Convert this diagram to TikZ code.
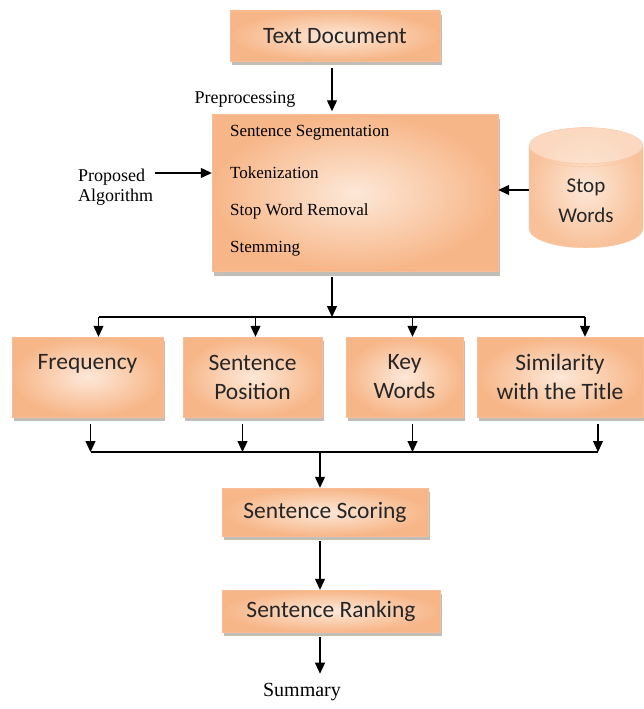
\documentclass[tikz,border=0pt]{standalone}
\usepackage{fontspec}
\setmainfont{Liberation Serif}
\newfontfamily\boxfont{Carlito}
\usetikzlibrary{arrows.meta,shapes.geometric,shadows,positioning}

\definecolor{peach}{RGB}{247,182,136}
\definecolor{peachlight}{RGB}{253,232,216}
\definecolor{shadowgray}{RGB}{180,172,165}

\tikzset{
  stage/.style={rectangle, inner color=peachlight, outer color=peach,
    draw=peach!90, line width=0.4pt,
    drop shadow={shadow xshift=2pt, shadow yshift=-4pt, fill=shadowgray, opacity=0.8},
    font=\boxfont\fontsize{23.5}{29}\selectfont, align=center, text=black!85},
  step item/.style={anchor=west, inner sep=0pt, font=\fontsize{17}{20}\selectfont},
  lbl/.style={font=\fontsize{18}{20}\selectfont, align=left, inner sep=2pt},
  cyl/.style={cylinder, shape border rotate=90, aspect=0.63,
    minimum width=114pt, minimum height=120pt,
    inner color=peachlight, outer color=peach!85,
    draw=peach!80, line width=0.4pt,
    font=\boxfont\fontsize{21}{30}\selectfont, align=center, text=black!85},
  arr/.style={-{Triangle[length=11pt,width=10pt]}, line width=1.2pt},
  bus/.style={line width=1.2pt}
}

\begin{document}
\begin{tikzpicture}[x=1pt,y=-1pt]
\useasboundingbox (0,0) rectangle (644,709);

% preprocessing stage
\node[stage, minimum width=210pt, minimum height=50pt] (doc) at (335,36) {Text Document};
\node[lbl] (pre) at (245,99) {Preprocessing};
\node[stage, minimum width=286pt, minimum height=157pt] (prep) at (355,193) {};
\node[step item] (seg) at (230,133) {Sentence Segmentation};
\node[step item] (tok) at (230,173) {Tokenization};
\node[step item] (swr) at (230,211) {Stop Word Removal};
\node[step item] (stem) at (230,249) {Stemming};
\node[lbl, anchor=west] (alg) at (76,187) {Proposed\\Algorithm};
\node[cyl, anchor=bottom] (stop) at (586,248) {Stop\\Words};
\draw[draw=peach!80, fill=peachlight, fill opacity=0.6, line width=0.4pt]
  ([yshift=-18pt]stop.top) ellipse [x radius=56.8pt, y radius=18pt];

% features
\node[stage, minimum width=151pt, minimum height=80pt] (freq) at (87.5,377) {Frequency\\\phantom{Position}};
\node[stage, minimum width=139pt, minimum height=80pt] (pos) at (252.5,377) {Sentence\\Position};
\node[stage, minimum width=117pt, minimum height=80pt] (key) at (404.5,377) {Key\\Words};
\node[stage, minimum width=166pt, minimum height=80pt] (sim) at (560,377) {Similarity\\with the Title};

% scoring and ranking
\node[stage, minimum width=206pt, minimum height=48pt] (score) at (325,512) {Sentence Scoring};
\node[stage, minimum width=218pt, minimum height=42pt] (rank) at (331,611) {Sentence Ranking};
\node[font=\fontsize{20}{22}\selectfont] (sum) at (302,692) {Summary};

\coordinate (upcol) at (332,0);
\coordinate (downcol) at (320,0);
\coordinate (bustop) at (0,317);
\coordinate (busbot) at (0,452);

% connectors
\draw[arr, shorten <=7pt, shorten >=3pt] (doc.south -| upcol) -- (prep.north -| upcol);
\draw[arr] (tok -| alg.east) -- (tok -| prep.west);
\draw[arr] (stop.west |- 0,190) -- (prep.east |- 0,190);
\draw[arr, shorten <=5pt] (prep.south -| upcol) -- (bustop -| upcol);
\draw[bus] ([xshift=11pt]freq.north |- bustop) -- ([xshift=25pt]sim.north |- bustop);
\foreach \n/\dx in {freq/11, pos/3, key/8, sim/25}
  \draw[arr] ([xshift=\dx pt]\n.north |- bustop) -- ([xshift=\dx pt]\n.north);
\foreach \n/\dx in {freq/3, pos/-10, key/8, sim/38}
  \draw[arr, shorten <=7pt] ([xshift=\dx pt]\n.south) -- ([xshift=\dx pt]\n.south |- busbot);
\draw[bus] ([xshift=3pt]freq.south |- busbot) -- ([xshift=38pt]sim.south |- busbot);
\draw[arr] (busbot -| downcol) -- (score.north -| downcol);
\draw[arr, shorten <=5pt] (score.south -| downcol) -- (rank.north -| downcol);
\draw[arr, shorten <=5pt, shorten >=6pt] (rank.south -| downcol) -- (sum.north -| downcol);
\end{tikzpicture}
\end{document}
